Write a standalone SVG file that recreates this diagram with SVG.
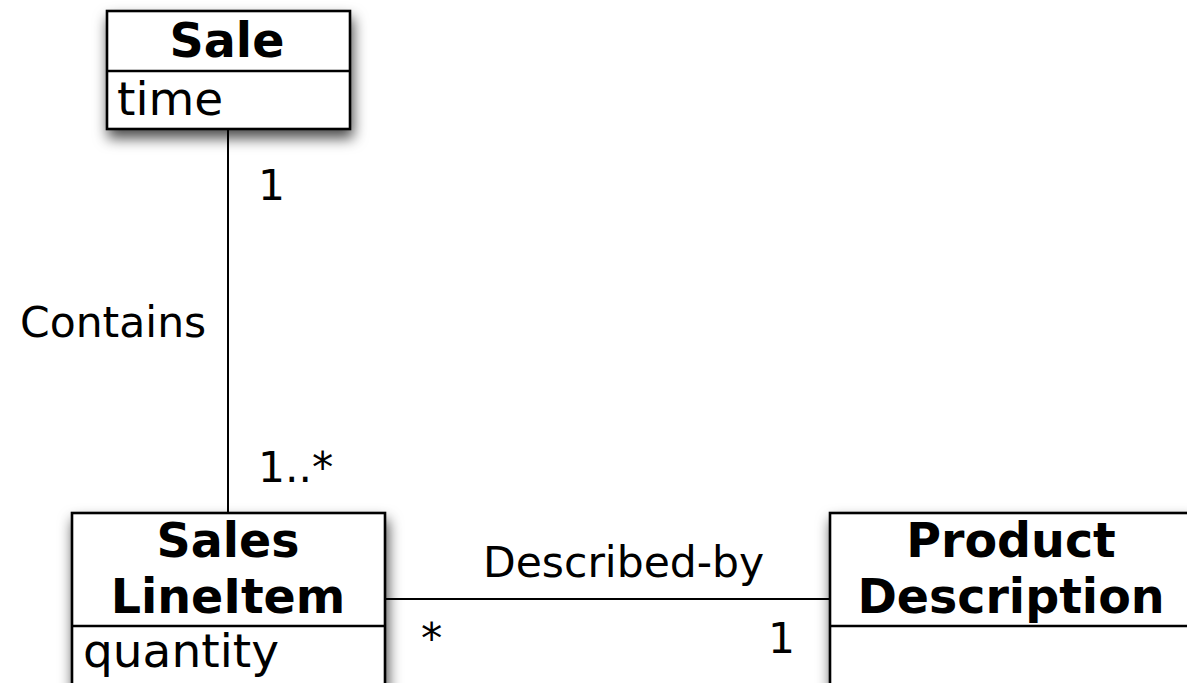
<svg xmlns="http://www.w3.org/2000/svg" width="1187" height="683" viewBox="0 0 1187 683">
<defs>
<filter id="sh" x="-20%" y="-20%" width="140%" height="160%">
<feDropShadow dx="2" dy="8" stdDeviation="7" flood-color="#000" flood-opacity="0.7"/>
</filter>
<style>
.box{fill:#fff;stroke:#000;stroke-width:2.6}
.div{stroke:#000;stroke-width:2.6}
.title{font-family:"DejaVu Sans",sans-serif;font-weight:bold;font-size:47.5px;text-anchor:middle;fill:#000}
.attr{font-family:"DejaVu Sans",sans-serif;font-size:47px;fill:#000}
.lbl{font-family:"DejaVu Sans",sans-serif;font-size:42.5px;fill:#000}
.conn{stroke:#000;stroke-width:2;fill:none}
</style>
</defs>
<rect width="1187" height="683" fill="#fff"/>
<g id="connectors">
<line class="conn" x1="228" y1="129" x2="228" y2="513"/>
<line class="conn" x1="385" y1="599" x2="830" y2="599"/>
<text class="lbl" x="258" y="200">1</text>
<text class="lbl" x="20" y="337">Contains</text>
<text class="lbl" x="258" y="482">1..*</text>
<text class="lbl" x="483" y="577">Described-by</text>
<text class="lbl" x="421" y="653">*</text>
<text class="lbl" x="768" y="653">1</text>
</g>
<g id="sale">
<rect class="box" x="107" y="11" width="243" height="118" filter="url(#sh)"/>
<line class="div" x1="107" y1="71" x2="350" y2="71"/>
<text class="title" x="227" y="57">Sale</text>
<text class="attr" x="117" y="115">time</text>
</g>
<g id="saleslineitem">
<rect class="box" x="72" y="513" width="313" height="200" filter="url(#sh)"/>
<line class="div" x1="72" y1="626" x2="385" y2="626"/>
<text class="title" x="228" y="557">Sales</text>
<text class="title" x="228" y="613">LineItem</text>
<text class="attr" x="83" y="667">quantity</text>
</g>
<g id="productdescription">
<rect class="box" x="830" y="513" width="362" height="200" filter="url(#sh)"/>
<line class="div" x1="830" y1="626" x2="1192" y2="626"/>
<text class="title" x="1011" y="557">Product</text>
<text class="title" x="1011" y="613">Description</text>
</g>
</svg>
